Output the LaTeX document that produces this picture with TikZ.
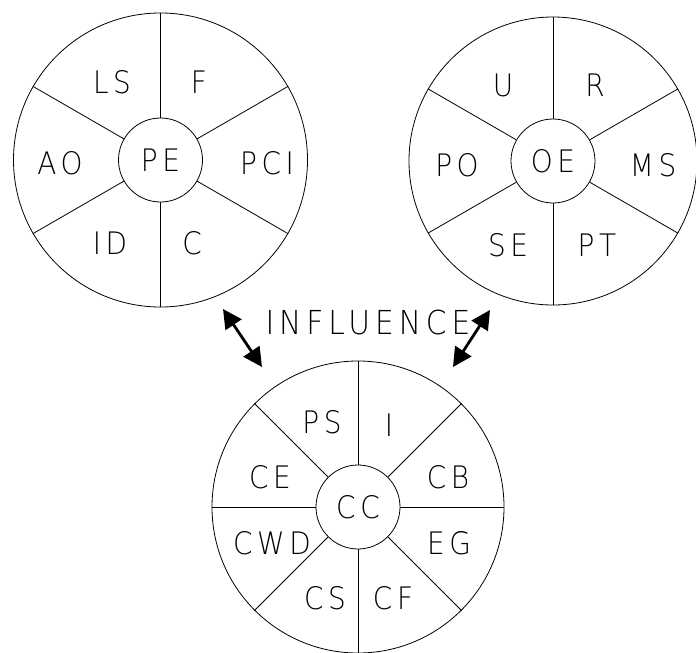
\documentclass[tikz,border=0pt]{standalone}
\usepackage{fontspec}
\newfontfamily\plot{DejaVu Sans ExtraLight}[FakeStretch=0.9,LetterSpace=15]
\usetikzlibrary{arrows.meta}
\begin{document}
\begin{tikzpicture}[x=1pt,y=-1pt,
  line width=0.8pt,
  wheel/.style={circle,draw,inner sep=0pt,minimum size=#1},
  hub/.style={circle,draw,inner sep=0pt,minimum size=84pt,font=\plot\fontsize{31}{31}\selectfont},
  lab/.style={font=\plot\fontsize{31}{31}\selectfont,inner sep=0pt},
  infl/.style={font=\plot\fontsize{33}{33}\selectfont,inner sep=0pt},
  dbl/.style={line width=2.8pt,{Triangle[length=19pt,width=19pt]}-{Triangle[length=19pt,width=19pt]}}]
\useasboundingbox (0,0) rectangle (696,653);
% ---- PE wheel
\node[wheel=294pt] (PEo) at (160.5,160) {};
\node[hub] (PE) at (160.5,160) {PE};
\foreach \a in {90,30,-30,-90,-150,150} \draw (PE.\a) -- (PEo.\a);
\node[lab] (LS) at (112,82) {LS};
\node[lab] (F) at (199,82) {F};
\node[lab] (AO) at (60,163) {AO};
\node[lab] (PCI) at (267,163) {PCI};
\node[lab] (ID) at (110,243) {ID};
\node[lab] (C) at (192,243) {C};
% ---- OE wheel
\node[wheel=288pt] (OEo) at (553,161) {};
\node[hub] (OE) at (553,161) {OE};
\foreach \a in {90,30,-30,-90,-150,150} \draw (OE.\a) -- (OEo.\a);
\node[lab] (U) at (503,85) {U};
\node[lab] (R) at (595,85) {R};
\node[lab] (PO) at (457,165) {PO};
\node[lab] (MS) at (653,165) {MS};
\node[lab] (SE) at (508,245) {SE};
\node[lab] (PT) at (597,245) {PT};
% ---- CC wheel
\node[wheel=292pt] (CCo) at (358,507) {};
\node[hub] (CC) at (358,507) {CC};
\foreach \a in {0,45,90,135,180,225,270,315} \draw (CC.\a) -- (CCo.\a);
\node[lab] (PS) at (322,422) {PS};
\node[lab] (I) at (389,425) {I};
\node[lab] (CE) at (270,477) {CE};
\node[lab] (CB) at (448,477) {CB};
\node[lab] (CWD) at (272,543) {CWD};
\node[lab] (EG) at (449,543) {EG};
\node[lab] (CS) at (325,598) {CS};
\node[lab] (CF) at (393,598) {CF};
% ---- influence
\node[infl] (INF) at (368,322) {INFLUENCE};
\coordinate (la) at (223,309);
\coordinate (lb) at (262,367);
\coordinate (ra) at (490,310);
\coordinate (rb) at (453,367);
\draw[dbl] (la) -- (lb);
\draw[dbl] (ra) -- (rb);
\end{tikzpicture}
\end{document}
